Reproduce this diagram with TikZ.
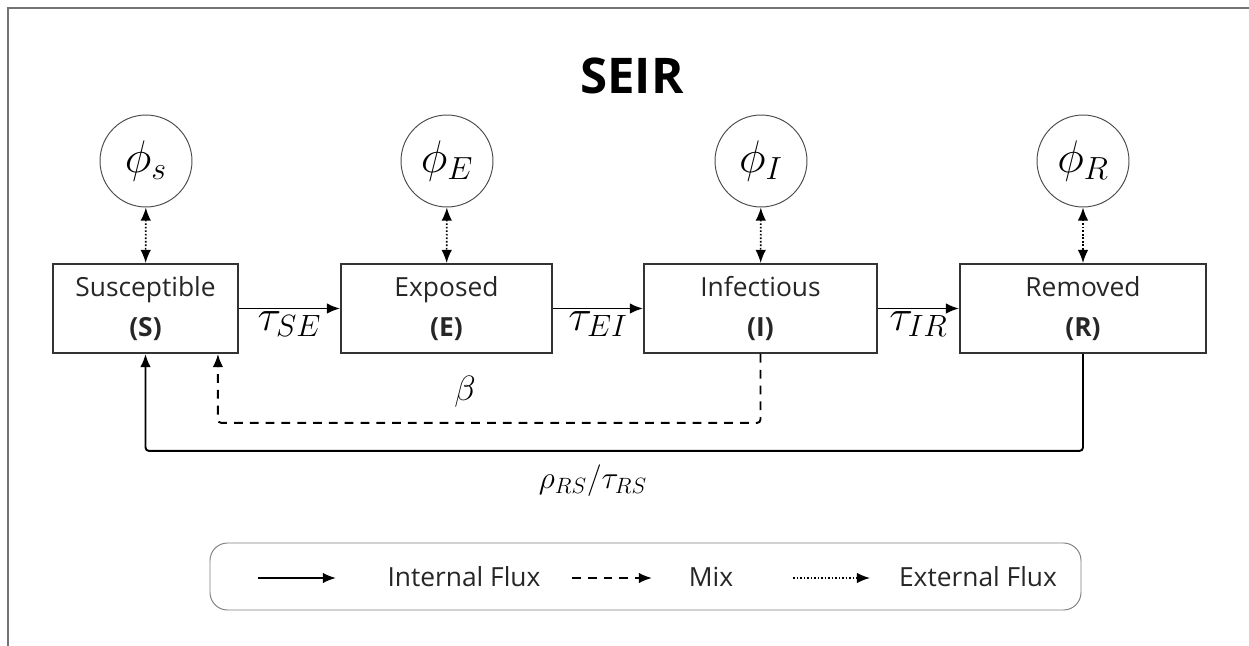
\RequirePackage{fix-cm}
\documentclass[tikz,border=0pt]{standalone}
\usepackage{fontspec}
\setmainfont{Open Sans}
\usetikzlibrary{arrows.meta, calc}

\begin{document}
\begin{tikzpicture}[x = 0.02cm, y = -0.02cm,
	compartment/.style = {draw = black!80, line width = 1.1pt, minimum height = 1.78cm, align = center, text = black!85, font = \fontsize{15}{23}\selectfont},
	source/.style = {circle, draw = black!70, line width = 0.55pt, minimum size = 1.84cm, inner sep = 0pt, font = \fontsize{26}{30}\selectfont},
	flux/.style = {line width = 1.1pt, -{Latex[length = 7.5pt, width = 6pt]}, rounded corners = 2pt},
	mix/.style = {flux, dash pattern = on 5pt off 4pt},
	external/.style = {line width = 0.9pt, dash pattern = on 0.9pt off 1.1pt, {Latex[length = 7.5pt, width = 6pt]}-{Latex[length = 7.5pt, width = 6pt]}},
	rate/.style = {font = \fontsize{25}{28}\selectfont, inner sep = 1pt},
	legendtext/.style = {text = black!85, font = \fontsize{15}{18}\selectfont}]
	\def\boxy{308.5};
	\def\srcy{161};
	
	\useasboundingbox (0,0) rectangle (1249,646);
	\draw [black!55, line width = 1.1pt] (8,646) -- (8,8) -- (1249,8);
	
	\node (title) at (632,76) {\fontsize{28}{32}\selectfont\bfseries SEIR};
	
	\node [compartment, minimum width = 3.7cm] (S) at (145.5,\boxy) {Susceptible\\\textbf{(S)}};
	\node [compartment, minimum width = 4.22cm] (E) at (446.5,\boxy) {Exposed\\\textbf{(E)}};
	\node [compartment, minimum width = 4.66cm] (I) at (760.5,\boxy) {Infectious\\\textbf{(I)}};
	\node [compartment, minimum width = 4.92cm] (R) at (1083,\boxy) {Removed\\\textbf{(R)}};
	
	\node [source] (phiS) at (146,\srcy) {$\phi_s$};
	\node [source] (phiE) at (447,\srcy) {$\phi_E$};
	\node [source] (phiI) at (761,\srcy) {$\phi_I$};
	\node [source] (phiR) at (1083,\srcy) {$\phi_R$};
	
	\foreach \src/\dst in {phiS/S, phiE/E, phiI/I, phiR/R}
		\draw [external] (\src) -- (\dst);
	
	\draw [flux] (S) -- node [rate, below] {$\tau_{SE}$} (E);
	\draw [flux] (E) -- node [rate, below] {$\tau_{EI}$} (I);
	\draw [flux] (I) -- node [rate, below] {$\tau_{IR}$} (R);
	
	\draw [mix] (I.south) -- ++(0,69) -| ($(S.south east) + (-21,0)$);
	\node [rate, font = \fontsize{20}{24}\selectfont] (beta) at (465,392) {$\beta$};
	
	\draw [flux] (R.south) -- ++(0,97) -| (S.south);
	\node [rate, font = \fontsize{18}{22}\selectfont] (rho) at (593,481) {$\rho_{RS}/\tau_{RS}$};
	
	\draw [black!50, line width = 0.55pt, rounded corners = 10pt] (210,543) rectangle (1081,610);
	\coordinate (fluxa) at (258,578);
	\coordinate (fluxb) at (336,578);
	\coordinate (mixa) at (572,578);
	\coordinate (mixb) at (652,578);
	\coordinate (exta) at (793,578);
	\coordinate (extb) at (870,578);
	\draw [flux] (fluxa) -- (fluxb);
	\draw [mix] (mixa) -- (mixb);
	\draw [line width = 0.9pt, dash pattern = on 0.9pt off 1.1pt, -{Latex[length = 7.5pt, width = 6pt]}] (exta) -- (extb);
	\node [legendtext] (fluxlabel) at (464,577) {Internal Flux};
	\node [legendtext] (mixlabel) at (711,577) {Mix};
	\node [legendtext] (extlabel) at (978,577) {External Flux};
\end{tikzpicture}
\end{document}
